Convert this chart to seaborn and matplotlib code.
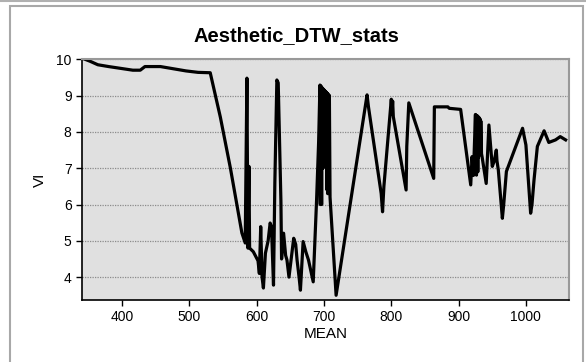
import numpy as np
import pandas as pd
import matplotlib
matplotlib.use("Agg")
import matplotlib.pyplot as plt
from matplotlib.patches import Rectangle
from matplotlib.lines import Line2D
import seaborn as sns

# ---- data (in drawing order) ----
mean_vals = [345, 352, 364, 380, 402, 416, 427, 434, 445, 457, 470, 479, 495, 513, 531,
             538, 546, 561, 578, 583, 585.5, 587, 588.5, 589.5, 595, 602, 604, 606, 608,
             610, 613, 617, 620, 622, 625, 627, 630, 632, 634, 636, 637, 640, 643, 645,
             648, 650, 655, 658, 660, 663, 665, 669, 673, 677, 684, 689, 692,
             694, 694.5, 695, 695.5, 696, 696.5, 697, 697.5, 698, 698.5, 699, 699.5,
             700, 700.5, 701, 701.5, 702, 702.5, 703, 703.5, 704, 704.5, 705, 705.5,
             706, 706.5, 707, 707.5, 708, 709,
             718, 764, 766,
             785, 787, 789, 800, 801, 802, 803, 822, 823, 826, 863, 864, 884, 886, 903,
             918, 920, 922,
             925, 925.5, 926, 926.5, 927, 927.5, 928, 928.5, 929, 929.5, 930, 930.5,
             931, 931.5, 932, 932.5, 933, 934, 935,
             941, 945, 950, 953,
             956, 957, 959, 965, 967, 971, 995, 1000, 1007, 1009, 1012, 1017, 1027, 1034,
             1044, 1051, 1059]
vi_vals = [10.0, 9.95, 9.85, 9.80, 9.74, 9.70, 9.70, 9.80, 9.80, 9.80, 9.76, 9.73, 9.68,
           9.64, 9.63, 9.06, 8.41, 7.0, 5.22, 4.94, 9.48, 4.8, 7.05, 4.8, 4.7, 4.45, 4.1,
           5.39, 4.0, 3.7, 4.66, 5.0, 5.49, 5.39, 3.78, 6.6, 9.43, 9.35, 7.7, 6.1, 4.5,
           5.21, 4.6, 4.47, 4.0, 4.3, 5.07, 4.9, 4.47, 4.0, 3.64, 4.98, 4.7, 4.47, 3.87,
           6.12, 7.7,
           9.29, 6.0, 9.27, 6.1, 9.25, 6.0, 9.22, 7.6, 9.2, 7.0, 9.18, 7.6,
           9.16, 7.2, 9.14, 7.6, 9.12, 7.6, 9.1, 7.0, 9.08, 6.4, 9.06, 6.3,
           9.04, 6.5, 9.02, 6.3, 9.0, 6.2,
           3.5, 9.02, 8.7, 6.3, 5.8, 6.5, 8.9, 8.5, 8.85, 8.42, 6.4, 7.6, 8.8, 6.72,
           8.69, 8.69, 8.65, 8.62, 6.54, 7.32, 6.8,
           8.48, 7.3, 8.46, 6.81, 8.45, 7.3, 8.44, 6.9, 8.42, 7.3, 8.4, 7.4,
           8.38, 7.37, 8.35, 7.4, 8.3, 7.4, 7.3,
           6.58, 8.19, 7.05, 7.2, 7.5, 7.2, 6.95, 5.62, 6.0, 6.91, 8.1, 7.64, 5.76,
           6.0, 6.67, 7.6, 8.03, 7.71, 7.78, 7.87, 7.78]
x_ticks = [400, 500, 600, 700, 800, 900, 1000]
y_ticks = [4, 5, 6, 7, 8, 9, 10]

df = pd.DataFrame({"MEAN": mean_vals, "VI": vi_vals})

plt.rcParams['font.family'] = ['Liberation Sans', 'DejaVu Sans']

W, H = 586, 362
fig = plt.figure(figsize=(W / 100, H / 100), dpi=100)
fig.patch.set_facecolor("white")

# outer frame like the original tool window
fig.add_artist(Line2D([0, 1], [(H - 1) / H, (H - 1) / H], transform=fig.transFigure,
                      color="#b0b0b0", lw=1.5))
fig.add_artist(Rectangle((10 / W, -0.05), (583 - 10) / W, (H - 6) / H + 0.05,
                         transform=fig.transFigure, fill=False,
                         edgecolor="#a8a8a8", lw=1.5))

ax = fig.add_axes([82 / W, (H - 300) / H, (569 - 82) / W, (300 - 59.3) / H])
ax.set_facecolor("#e0e0e0")

sns.lineplot(data=df, x="MEAN", y="VI", sort=False, estimator=None,
             color="black", lw=2.3, ax=ax)

ax.set_xlim(340.5, 1064)
ax.set_ylim(3.37, 10)
ax.set_xticks(x_ticks)
ax.set_yticks(y_ticks)
ax.tick_params(direction="out", length=4, width=1, colors="black", labelsize=10)
ax.yaxis.grid(True, linestyle=(0, (1, 1)), color="#8c8c8c", lw=0.9)
ax.xaxis.grid(False)
ax.set_axisbelow(True)

for side in ["left", "bottom"]:
    ax.spines[side].set_color("black")
    ax.spines[side].set_linewidth(1.2)
for side in ["top", "right"]:
    ax.spines[side].set_color("#999999")
    ax.spines[side].set_linewidth(1.5)

ax.set_xlabel("MEAN", fontsize=11, labelpad=2)
ax.set_ylabel("VI", fontsize=11, labelpad=7)

fig.text(296.5 / W, (H - 36) / H, "Aesthetic_DTW_stats", ha="center", va="center",
         fontsize=14.5, fontweight="bold")

fig.savefig("out.png", dpi=100)
